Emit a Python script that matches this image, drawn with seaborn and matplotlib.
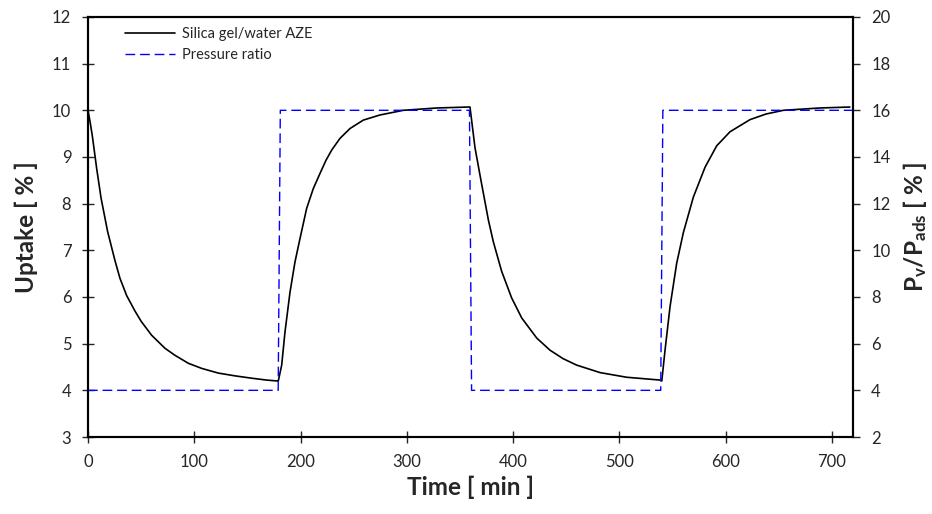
import numpy as np
import pandas as pd
import matplotlib
matplotlib.use("Agg")
import matplotlib.pyplot as plt
import seaborn as sns

# uptake curve (time in min, uptake in %)
time_uptake = [0, 2, 4.1, 8.2, 12.3, 18.5, 25.4, 30.1, 36.4, 44.2, 50, 59.9, 72.5, 81.9,
               94.4, 107, 122.6, 138.4, 154, 168, 178.5,
               179.1, 182.3, 185.4, 190.1, 194.8, 199.5, 205.8, 212, 218.4, 224, 229.4, 237.2,
               246.6, 259.1, 274.8, 296.8, 328.2, 358,
               359.5, 364.2, 369, 376.8, 381.5, 389.3, 398.7, 408.2, 422.3, 434.8, 447, 459.9,
               481.9, 507, 538.4,
               540, 543, 547.8, 554, 560.3, 569.7, 580.7, 591.7, 604.2, 623, 638, 654.4, 688.9, 717]
uptake = [10.0, 9.75, 9.45, 8.75, 8.12, 7.40, 6.78, 6.40, 6.03, 5.70, 5.48, 5.18, 4.90, 4.75,
          4.58, 4.47, 4.37, 4.31, 4.26, 4.22, 4.20,
          4.20, 4.54, 5.25, 6.10, 6.75, 7.25, 7.90, 8.32, 8.65, 8.93, 9.15, 9.40,
          9.61, 9.79, 9.90, 10.0, 10.05, 10.07,
          10.07, 9.20, 8.60, 7.65, 7.18, 6.55, 5.98, 5.55, 5.12, 4.86, 4.68, 4.54,
          4.38, 4.28, 4.22,
          4.20, 4.85, 5.80, 6.72, 7.38, 8.14, 8.78, 9.24, 9.54, 9.80, 9.92, 10.0, 10.05, 10.07]

# pressure ratio steps
time_press = [0, 179, 181, 359, 361, 539, 541, 720]
press = [4, 4, 16, 16, 4, 4, 16, 16]

sns.set_style("ticks")
plt.rcParams['font.family'] = ['Lato', 'DejaVu Sans']
plt.rcParams['mathtext.fontset'] = 'custom'
plt.rcParams['mathtext.rm'] = 'Lato'
plt.rcParams['mathtext.it'] = 'Lato:bold'
plt.rcParams['mathtext.bf'] = 'Lato:bold'

df_u = pd.DataFrame({'t': time_uptake, 'u': uptake})
df_p = pd.DataFrame({'t': time_press, 'p': press})

fig = plt.figure(figsize=(9.32, 5.14), dpi=100)
ax = fig.add_axes([0.0944, 0.1498, 0.8209, 0.8172])
ax2 = ax.twinx()

sns.lineplot(data=df_u, x='t', y='u', ax=ax, color='black', lw=1.2, legend=False)
sns.lineplot(data=df_p, x='t', y='p', ax=ax2, color='#0000ff', lw=1.0,
             dashes=False, legend=False)
ax2.lines[0].set_dashes((7, 3.5))

ax.set_xlim(0, 720)
ax.set_ylim(3, 12)
ax2.set_ylim(2, 20)
ax.set_xticks(range(0, 701, 100))
ax.set_yticks(range(3, 13))
ax2.set_yticks(range(2, 21, 2))

ax.set_xlabel('Time [ min ]', fontsize=17.5, fontweight='bold', labelpad=4)
ax.set_ylabel('Uptake [ % ]', fontsize=17.5, fontweight='bold', labelpad=10)
ax2.set_ylabel(r'$\mathbf{P_{v}/P_{ads}}$ [ % ]', fontsize=17.5, fontweight='bold', labelpad=8)

ax.tick_params(axis='x', direction='inout', length=8, width=1, labelsize=12, pad=8)
ax.tick_params(axis='y', direction='inout', length=8, width=1, labelsize=12, pad=8)
ax2.tick_params(axis='y', direction='out', length=5, width=1, labelsize=12, pad=8)

for a in (ax, ax2):
    for s in a.spines.values():
        s.set_linewidth(1.5)
        s.set_color('black')

handles = [ax.lines[0], ax2.lines[0]]
labels = ['Silica gel/water AZE', 'Pressure ratio']
ax.legend(handles, labels, loc='upper left', frameon=False, fontsize=10.5,
          handlelength=3.4, bbox_to_anchor=(0.035, 1.0), borderaxespad=0.3,
          labelspacing=0.45, handletextpad=0.5)

fig.savefig('out.png', dpi=100)
